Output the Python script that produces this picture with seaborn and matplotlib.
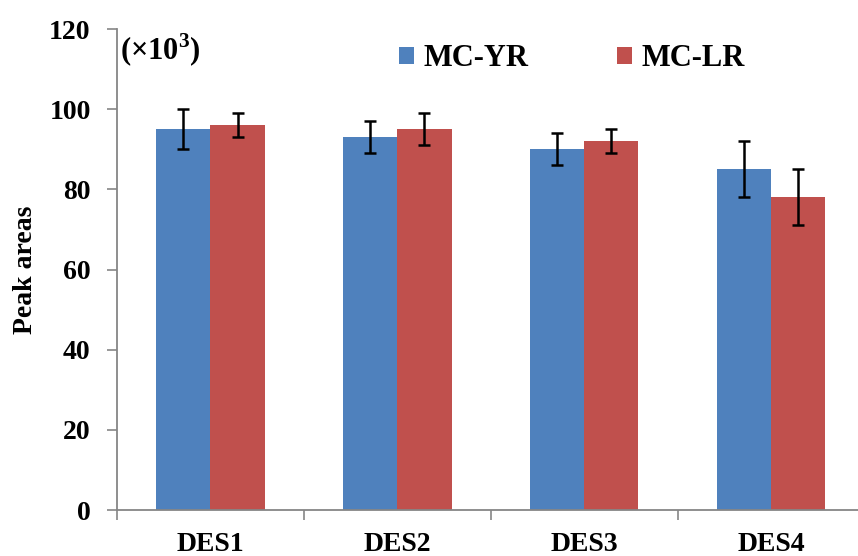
import pandas as pd
import matplotlib.pyplot as plt
import seaborn as sns

# chart values
samples = ['DES1', 'DES2', 'DES3', 'DES4']
groups = ['MC-YR', 'MC-LR']
yr_means = [95, 93, 90, 85]
yr_errs = [5, 4, 4, 7]
lr_means = [96, 95, 92, 78]
lr_errs = [3, 4, 3, 7]

df = pd.DataFrame({
    'Sample': samples * 2,
    'Group': [groups[0]] * 4 + [groups[1]] * 4,
    'Peak': yr_means + lr_means,
    'Err': yr_errs + lr_errs,
})

sns.set_style('white')
plt.rcParams['font.family'] = ['Liberation Serif', 'DejaVu Serif']
plt.rcParams['font.weight'] = 'bold'
plt.rcParams['text.color'] = 'black'
plt.rcParams['axes.labelcolor'] = 'black'
plt.rcParams['xtick.labelcolor'] = 'black'
plt.rcParams['ytick.labelcolor'] = 'black'
plt.rcParams['mathtext.fontset'] = 'custom'
plt.rcParams['mathtext.bf'] = 'Liberation Serif:bold'
plt.rcParams['mathtext.rm'] = 'Liberation Serif:bold'

fig = plt.figure(figsize=(8.58, 5.56), dpi=100)
ax = fig.add_axes([0.1364, 0.0827, 0.8636, 0.8651])

palette = {'MC-YR': '#4F81BD', 'MC-LR': '#C0504D'}
sns.barplot(data=df, x='Sample', y='Peak', hue='Group', order=samples,
            hue_order=groups, palette=palette, width=0.58, errorbar=None,
            saturation=1, linewidth=0, ax=ax)

# error bars on bar centres
for container, g in zip(ax.containers, groups):
    sub = df[df['Group'] == g].set_index('Sample').loc[samples]
    xs = [p.get_x() + p.get_width() / 2 for p in container.patches]
    ax.errorbar(xs, sub['Peak'], yerr=sub['Err'], fmt='none', ecolor='black',
                elinewidth=1.8, capsize=4.2, capthick=1.8)

ax.set_ylim(0, 120)
ax.set_yticks(range(0, 121, 20))
ax.set_xlim(-0.5, 3.465)
ax.set_xticks(range(4))
ax.set_xticklabels(samples, fontsize=20, fontweight='bold')
ax.set_xticks([-0.5, 0.5, 1.5, 2.5], minor=True)
ax.tick_params(axis='x', which='major', length=0, pad=16)
ax.tick_params(axis='x', which='minor', bottom=True, length=7, width=1.2,
               color='#868686', direction='out')
ax.tick_params(axis='y', left=True, length=7, width=1.2, color='#868686',
               direction='out', labelsize=20, pad=12)
for lbl in ax.get_yticklabels():
    lbl.set_fontweight('bold')

sns.despine(ax=ax)
for s in ['left', 'bottom']:
    ax.spines[s].set_color('#868686')
    ax.spines[s].set_linewidth(1.3)

ax.set_xlabel('')
ax.set_ylabel('Peak areas', fontsize=20, fontweight='bold', labelpad=8)

ax.text(0.004, 0.995, '(×10$^{3}$)', transform=ax.transAxes,
        fontsize=22, fontweight='bold', va='top', ha='left')

handles, labels = ax.get_legend_handles_labels()
ax.legend(handles, labels, ncol=2, frameon=False, loc='upper center',
          bbox_to_anchor=(0.614, 1.025), prop={'size': 22, 'weight': 'bold'},
          handlelength=0.5, handleheight=0.5, handletextpad=0.3, columnspacing=2.9)

fig.savefig('out.png', dpi=100)
